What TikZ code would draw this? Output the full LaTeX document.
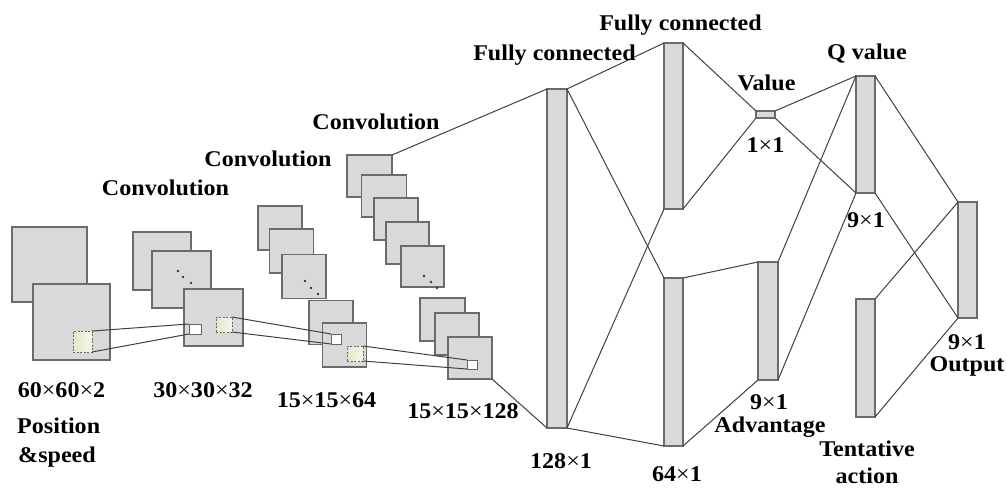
\documentclass[tikz,border=0pt]{standalone}
\usepackage{fontspec}
\setmainfont{Liberation Serif}[FakeStretch=1.07]
\definecolor{fieldgreen}{RGB}{222,233,200}
\definecolor{fieldlight}{RGB}{246,248,238}
\newcommand{\by}{{\mdseries ×}}
\begin{document}
\begin{tikzpicture}[x=1pt,y=-1pt,
  fmap/.style={draw=black!58, fill=black!15, line width=1.1pt, inner sep=0pt, outer sep=0pt},
  win/.style={draw=black!60, fill=white, line width=0.9pt, inner sep=0pt, outer sep=0pt},
  field/.style={draw=black!60, dashed, dash pattern=on 2pt off 1.5pt, line width=0.9pt,
    left color=fieldgreen, right color=fieldlight, inner sep=0pt, outer sep=0pt},
  link/.style={draw=black!75, line width=1pt},
  lbl/.style={font=\fontsize{22.5}{27}\selectfont\bfseries, inner sep=0pt, anchor=base},
  dot/.style={fill=black!80}]
\useasboundingbox (0,0) rectangle (1007,488);

% input planes
\node[fmap, minimum width=75, minimum height=75] (in0) at (49.5,264.5) {};
\node[fmap, minimum width=77, minimum height=76] (in1) at (71.5,322) {};
\node[field, minimum width=19, minimum height=21] (d0) at (82.5,341.5) {};

% first convolution layer
\node[fmap, minimum width=58, minimum height=58] (a0) at (162,261) {};
\node[fmap, minimum width=59, minimum height=57] (a1) at (181.5,279.5) {};
\node[fmap, minimum width=59, minimum height=57] (a2) at (213.5,317.5) {};
\node[field, minimum width=16, minimum height=15] (d1) at (224,324.5) {};
\foreach \p in {(178,271),(183,277),(191,283)} \fill[dot] \p circle (1.4);

% second convolution layer
\node[fmap, minimum width=44, minimum height=44] (b0) at (280,228) {};
\node[fmap, minimum width=44, minimum height=44] (b1) at (291.5,251) {};
\node[fmap, minimum width=44, minimum height=44] (b2) at (304,276.5) {};
\node[fmap, minimum width=44, minimum height=44] (b3) at (331,322.5) {};
\node[fmap, minimum width=44, minimum height=44] (b4) at (344.5,345) {};
\node[field, minimum width=16, minimum height=15] (d2) at (355,353.5) {};
\foreach \p in {(305,281),(311,288),(318,294)} \fill[dot] \p circle (1.4);

% third convolution layer
\node[fmap, minimum width=45, minimum height=42] (c0) at (369.5,176) {};
\node[fmap, minimum width=45, minimum height=42] (c1) at (384,196) {};
\node[fmap, minimum width=44, minimum height=42] (c2) at (396,219) {};
\node[fmap, minimum width=43, minimum height=42] (c3) at (407.5,243) {};
\node[fmap, minimum width=43, minimum height=41] (c4) at (422.5,266.5) {};
\node[fmap, minimum width=45, minimum height=43] (c5) at (442.5,319.5) {};
\node[fmap, minimum width=44, minimum height=42] (c6) at (457,334) {};
\node[fmap, minimum width=44, minimum height=42] (c7) at (470,358) {};
\foreach \p in {(424,276),(431,282),(437,288)} \fill[dot] \p circle (1.4);

% receptive-field windows and their connectors
\node[win, minimum width=12, minimum height=10] (w1) at (195,329) {};
\node[win, minimum width=10, minimum height=10] (w2) at (336,339) {};
\node[win, minimum width=10, minimum height=9] (w3) at (472,364.5) {};
\draw[link] (d0.north east) -- (w1.north west);
\draw[link] (d0.south east) -- (w1.south west);
\draw[link] (d1.north east) -- (w2.north west);
\draw[link] (d1.south east) -- (w2.south west);
\draw[link] (d2.north east) -- (w3.north west);
\draw[link] (d2.south east) -- (w3.south west);

% fully connected part
\node[fmap, minimum width=20, minimum height=339] (f1) at (557,258.5) {};
\node[fmap, minimum width=19, minimum height=166] (fv) at (673.5,126) {};
\node[fmap, minimum width=19, minimum height=168] (fa) at (673.5,362) {};
\node[fmap, minimum width=19, minimum height=7] (val) at (765.5,114.5) {};
\node[fmap, minimum width=20, minimum height=118] (adv) at (768,321) {};
\node[fmap, minimum width=19, minimum height=117] (q) at (865.5,134.5) {};
\node[fmap, minimum width=19, minimum height=118] (ten) at (865.5,358) {};
\node[fmap, minimum width=19, minimum height=116] (out) at (967.5,260) {};

\draw[link] (c0.north east) -- (f1.north west);
\draw[link] (c7.south east) -- (f1.south west);
\draw[link] (f1.north east) -- (fv.north west);
\draw[link] (f1.north east) -- (fa.north west);
\draw[link] (f1.south east) -- (fv.south west);
\draw[link] (f1.south east) -- (fa.south west);
\draw[link] (fv.north east) -- (val.north west);
\draw[link] (fv.south east) -- (val.south west);
\draw[link] (fa.north east) -- (adv.north west);
\draw[link] (fa.south east) -- (adv.south west);
\draw[link] (val.north east) -- (q.north west);
\draw[link] (val.south east) -- (q.south west);
\draw[link] (adv.north east) -- (q.north west);
\draw[link] (adv.south east) -- (q.south west);
\draw[link] (q.north east) -- (out.north west);
\draw[link] (q.south east) -- (out.south west);
\draw[link] (ten.north east) -- (out.north west);
\draw[link] (ten.south east) -- (out.south west);

% labels
\node[lbl] (t1) at (165.5,195) {Convolution};
\node[lbl] (t2) at (268,166) {Convolution};
\node[lbl] (t3) at (376,129) {Convolution};
\node[lbl] (t4) at (554.5,60) {Fully connected};
\node[lbl] (t5) at (680.5,30) {Fully connected};
\node[lbl] (t6) at (766.5,90) {Value};
\node[lbl] (t7) at (765.5,152) {1\by1};
\node[lbl] (t8) at (867,59) {Q value};
\node[lbl] (t9) at (866,227) {9\by1};
\node[lbl] (t10) at (769,409) {9\by1};
\node[lbl] (t11) at (770,432) {Advantage};
\node[lbl] (t12) at (867,456) {Tentative};
\node[lbl] (t13) at (867,483) {action};
\node[lbl] (t14) at (967,349) {9\by1};
\node[lbl] (t15) at (967,371) {Output};
\node[lbl] (t16) at (561,468) {128\by1};
\node[lbl] (t17) at (677,481) {64\by1};
\node[lbl] (t18) at (463,418) {15\by15\by128};
\node[lbl] (t19) at (326.5,407) {15\by15\by64};
\node[lbl] (t20) at (203,397) {30\by30\by32};
\node[lbl] (t21) at (61.5,397) {60\by60\by2};
\node[lbl, anchor=base west] (t22) at (17,433) {Position};
\node[lbl, anchor=base west] (t23) at (18,462) {\&speed};
\end{tikzpicture}
\end{document}
